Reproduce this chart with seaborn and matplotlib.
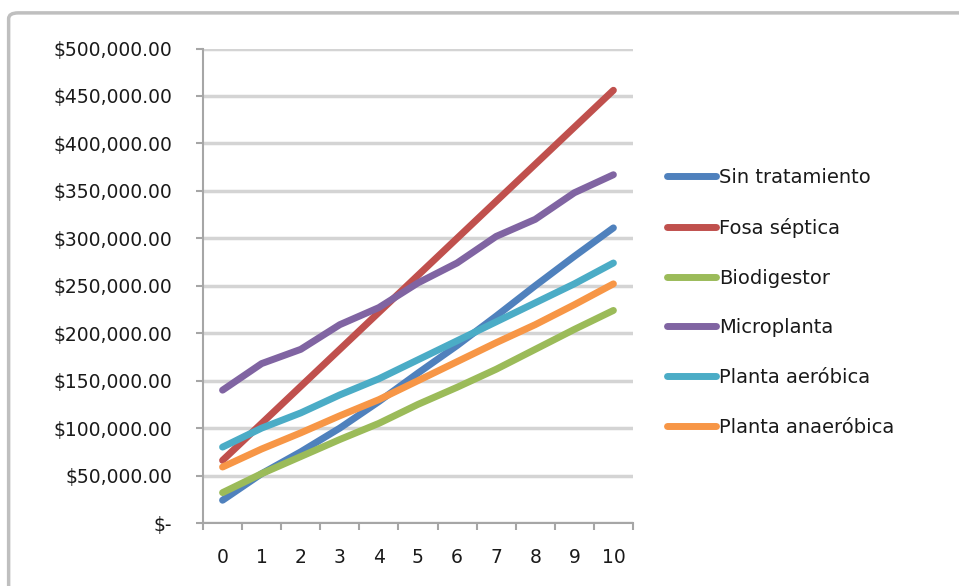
import pandas as pd
import matplotlib.pyplot as plt
import seaborn as sns
from matplotlib.ticker import FuncFormatter, FixedLocator
from matplotlib.patches import FancyBboxPatch

years = list(range(11))
sin_tratamiento = [24000, 52000, 75000, 100000, 128000, 158000, 187000, 218000, 250000, 281000, 311000]
fosa_septica = [66000, 105000, 144000, 183000, 222000, 261000, 300000, 339000, 378000, 417000, 456000]
biodigestor = [32000, 52000, 70000, 88000, 105000, 125000, 143000, 162000, 183000, 204000, 224000]
microplanta = [140000, 168000, 183000, 209000, 227000, 253000, 274000, 302000, 320000, 348000, 367000]
planta_aerobica = [80000, 100000, 116000, 135000, 152000, 172000, 192000, 212000, 232000, 252000, 274000]
planta_anaerobica = [59000, 78000, 95000, 113000, 130000, 150000, 170000, 190000, 209000, 230000, 252000]

series = {
    'Sin tratamiento': sin_tratamiento,
    'Fosa séptica': fosa_septica,
    'Biodigestor': biodigestor,
    'Microplanta': microplanta,
    'Planta aeróbica': planta_aerobica,
    'Planta anaeróbica': planta_anaerobica,
}
colores = ['#4F81BD', '#C0504D', '#9BBB59', '#8064A2', '#4BACC6', '#F79646']

df = pd.DataFrame([(k, x, v) for k, vals in series.items() for x, v in zip(years, vals)],
                  columns=['serie', 'anio', 'costo'])

sns.set_style('white')
plt.rcParams['font.family'] = ['DejaVu Sans']

fig = plt.figure(figsize=(9.59, 5.86), dpi=100)
# marco del grafico
fig.patches.append(FancyBboxPatch((0.009, -0.05), 1.1, 1.028, boxstyle='round,pad=0,rounding_size=0.01',
                                  transform=fig.transFigure, facecolor='white',
                                  edgecolor='#BFBFBF', linewidth=2.5, zorder=-1))
ax = fig.add_axes([0.2117, 0.1075, 0.4483, 0.8097])
ax.set_facecolor('none')

sns.lineplot(data=df, x='anio', y='costo', hue='serie', hue_order=list(series.keys()),
             palette=colores, linewidth=5, ax=ax, solid_capstyle='round', zorder=3)

ax.set_xlim(-0.5, 10.5)
ax.set_ylim(0, 500000)
ax.set_yticks(range(0, 500001, 50000))
ax.yaxis.set_major_formatter(FuncFormatter(lambda v, p: r'\$-' if v == 0 else r'\${:,.2f}'.format(v)))
ax.set_xticks(years)
ax.set_xticklabels([str(y) for y in years])
ax.xaxis.set_minor_locator(FixedLocator([i - 0.5 for i in range(12)]))
ax.tick_params(axis='x', which='major', length=0, pad=18, labelsize=13.5, labelcolor='#1a1a1a')
ax.tick_params(axis='x', which='minor', length=5, width=1.5, color='#A6A6A6', bottom=True)
ax.tick_params(axis='y', length=5, width=1.5, color='#A6A6A6', left=True, labelsize=13.5,
               pad=17, labelcolor='#1a1a1a')
ax.grid(axis='y', color='#D4D4D4', linewidth=2.5, zorder=0)
ax.set_axisbelow(True)
for s in ['top', 'right']:
    ax.spines[s].set_visible(False)
for s in ['left', 'bottom']:
    ax.spines[s].set_color('#A6A6A6')
    ax.spines[s].set_linewidth(1.5)
ax.set_xlabel('')
ax.set_ylabel('')

handles, labels = ax.get_legend_handles_labels()
leg = ax.legend(handles, labels, loc='upper left', bbox_to_anchor=(1.079, 0.748), frameon=False,
                fontsize=14, handlelength=2.5, handletextpad=0.2, labelspacing=1.58, borderaxespad=0,
                borderpad=0)
for t in leg.get_texts():
    t.set_color('#1a1a1a')

plt.savefig('out.png', dpi=100)
